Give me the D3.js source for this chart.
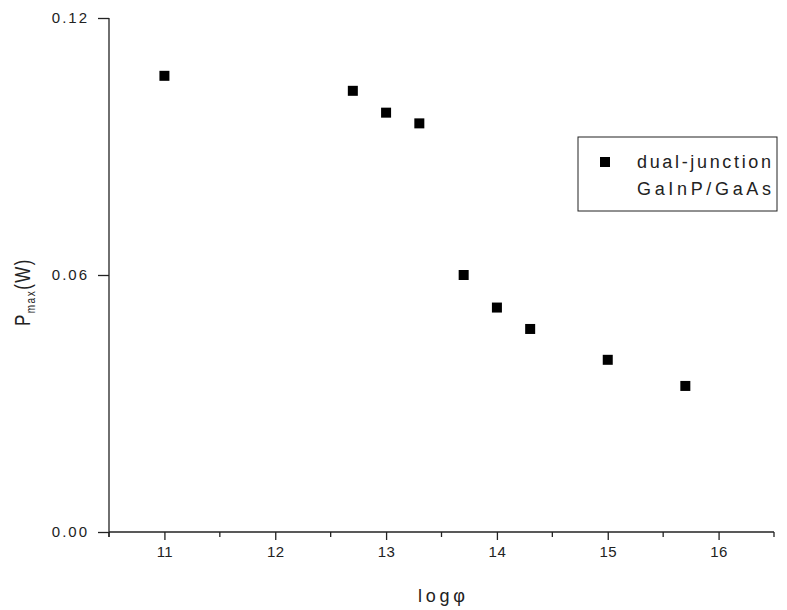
<!DOCTYPE html>
<html>
<head>
<meta charset="utf-8">
<script src="https://cdn.jsdelivr.net/npm/d3@7"></script>
<style>
	body { margin: 0; background: #fff; }
	text { font-family: "Liberation Sans", Arial, sans-serif; fill: #222; }
	.tick text { font-size: 15px; }
	.xax .tick text { letter-spacing: 0.5px; }
	.yax .tick text { letter-spacing: 2px; }
</style>
</head>
<body>
<svg id="chart" width="787" height="610"></svg>
<script>
// values
var logPhi = [11, 12.7, 13, 13.3, 13.7, 14, 14.3, 15, 15.7];
var pmax = [0.1065, 0.1030, 0.0979, 0.0954, 0.0600, 0.0524, 0.0474, 0.0402, 0.0341];
var xTicks = [11, 12, 13, 14, 15, 16];
var yTicks = [0, 0.06, 0.12];
var legendLines = ["dual-junction", "GaInP/GaAs"];

var svg = d3.select("#chart");
var plotLeft = 109, plotRight = 774, plotTop = 18, plotBottom = 532;

var x = d3.scaleLinear().domain([10.5, 16.5]).range([plotLeft, plotRight]);
var y = d3.scaleLinear().domain([0, 0.12]).range([plotBottom, plotTop]);

// x axis, major ticks plus minor at the halves
var gx = svg.append("g")
	.attr("class", "xax")
	.attr("transform", "translate(0," + plotBottom + ")")
	.call(d3.axisBottom(x)
		.tickValues(xTicks)
		.tickSize(8)
		.tickPadding(6)
		.tickFormat(d3.format("d")));

var minor = d3.range(10.5, 16.6, 1);
gx.selectAll(".minor")
	.data(minor)
	.enter().append("line")
	.attr("class", "minor")
	.attr("x1", function(d) { return x(d); })
	.attr("x2", function(d) { return x(d); })
	.attr("y1", 0)
	.attr("y2", 5)
	.attr("stroke", "#222")
	.attr("stroke-width", 1.3);

var gy = svg.append("g")
	.attr("class", "yax")
	.attr("transform", "translate(" + plotLeft + ",0)")
	.call(d3.axisLeft(y)
		.tickValues(yTicks)
		.tickSize(11)
		.tickPadding(9)
		.tickFormat(d3.format(".2f")));

[gx, gy].forEach(function(g) {
	g.select(".domain").attr("stroke", "#222").attr("stroke-width", 1.3);
	g.selectAll(".tick line").attr("stroke", "#222").attr("stroke-width", 1.3);
	g.selectAll(".tick text").attr("fill", "#222");
});
// no outer tick stubs
gx.select(".domain").attr("d", "M" + plotLeft + ",0H" + plotRight);
gy.select(".domain").attr("d", "M0," + plotTop + "V" + (plotBottom + 5));

// data markers
svg.append("g")
	.selectAll("rect")
	.data(logPhi)
	.enter().append("rect")
	.attr("x", function(d) { return x(d) - 5; })
	.attr("y", function(d, i) { return y(pmax[i]) - 5; })
	.attr("width", 10)
	.attr("height", 10)
	.attr("fill", "#000");

// axis titles
svg.append("text")
	.attr("x", 418)
	.attr("y", 602)
	.attr("textLength", 47)
	.attr("lengthAdjust", "spacing")
	.style("font-size", "18px")
	.text("log\u03c6");

var yt = svg.append("text")
	.attr("transform", "translate(30,292) rotate(-90) scale(1,1.3)")
	.attr("text-anchor", "middle")
	.style("font-size", "17px")
	.style("letter-spacing", "1.5px");
yt.append("tspan").text("P");
yt.append("tspan").attr("dy", 4).style("font-size", "10px").text("max");
yt.append("tspan").attr("dy", -4).text("(W)");

// legend
var lg = svg.append("g").attr("transform", "translate(578,137)");
lg.append("rect")
	.attr("width", 199)
	.attr("height", 74)
	.attr("fill", "#fff")
	.attr("stroke", "#222")
	.attr("stroke-width", 1);
lg.append("rect")
	.attr("x", 22)
	.attr("y", 20)
	.attr("width", 10)
	.attr("height", 10)
	.attr("fill", "#000");
lg.selectAll(".lt")
	.data(legendLines)
	.enter().append("text")
	.attr("class", "lt")
	.attr("x", 59)
	.attr("y", function(d, i) { return 31 + i * 27; })
	.attr("textLength", 134)
	.attr("lengthAdjust", "spacing")
	.style("font-size", "18px")
	.text(function(d) { return d; });
</script>
</body>
</html>
